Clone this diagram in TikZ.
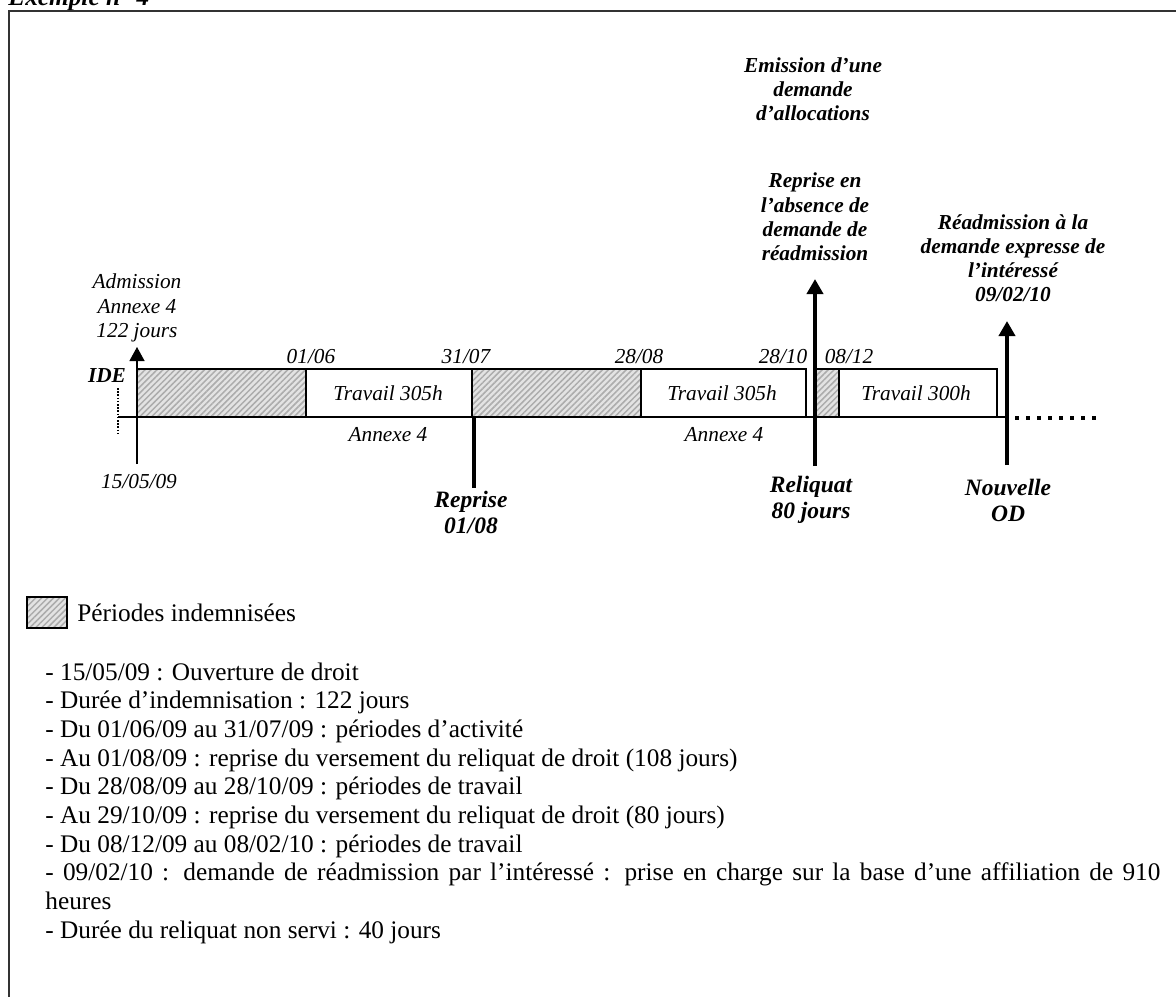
\documentclass[tikz,border=0pt]{standalone}
\usepackage{fontspec}
\setmainfont{Liberation Serif}
\usetikzlibrary{arrows.meta,patterns.meta}
\newcommand\labfont{\fontsize{10.65pt}{12.1pt}\selectfont\itshape}
\newcommand\blabfont{\fontsize{10.65pt}{12.1pt}\selectfont\bfseries\itshape}
\newcommand\biglabfont{\fontsize{11.75pt}{13pt}\selectfont\bfseries\itshape}
\newcommand\listfont{\fontsize{12.65pt}{14.35pt}\selectfont}
\tikzset{
  lab/.style={font=\labfont, inner sep=0pt, align=center},
  blab/.style={font=\blabfont, inner sep=0pt, align=center},
  biglab/.style={font=\biglabfont, inner sep=0pt, align=center},
  listline/.style={font=\listfont, inner sep=0pt, anchor=base west},
  boxline/.style={draw=black, line width=1pt},
  hatch/.style={preaction={fill=gray!22}, preaction={pattern={Lines[angle=45,distance=2.1pt,line width=0.75pt]}, pattern color=gray!65}},
  thinarrow/.style={line width=0.65pt, -{Triangle[width=7.5pt,length=7pt]}},
  thickarrow/.style={line width=2pt, -{Triangle[width=8pt,length=7.5pt]}},
  thickline/.style={line width=2pt}
}
\begin{document}
\begin{tikzpicture}[x=0.5pt,y=-0.5pt]
\useasboundingbox (0,0) rectangle (1176,996);
\fill[white] (0,0) rectangle (1176,996);
% title (cut off at top, as in the reference)
\node[font=\listfont\bfseries\itshape, inner sep=0pt, anchor=base west] (title) at (8,5) {Exemple n° 4};
% frame
\draw[line width=1pt, black!80] (8.5,10.5) rectangle (1200,1030);

% dotted vertical at start
\draw[line width=0.6pt, dash pattern=on 0.8pt off 0.8pt] (118,388) -- (118,433);

% boxes
\draw[boxline, hatch] (137,369) rectangle (306,417);
\draw[boxline] (306,369) rectangle (472,417);
\draw[boxline, hatch] (472,369) rectangle (641,417);
\draw[boxline] (641,369) rectangle (806,417);
\draw[boxline, hatch] (816,369) rectangle (839,417);
\draw[boxline] (839,369) rectangle (997,417);
% baseline
\coordinate (b0) at (118,417);
\coordinate (b1) at (1007,417);
\draw[line width=1pt] (b0) -- (b1);
% dots
\coordinate (d0) at (1015,418);
\coordinate (d1) at (1098,418);
\draw[line width=2pt, dash pattern=on 2pt off 3.5pt] (d0) -- (d1);

% arrows
\coordinate (adm0) at (137,464);
\coordinate (adm1) at (137,347);
\draw[thinarrow] (adm0) -- (adm1);
\coordinate (rep0) at (474,417);
\coordinate (rep1) at (474,488);
\draw[thickline] (rep0) -- (rep1);
\coordinate (rel0) at (815,466);
\coordinate (rel1) at (815,279);
\draw[thickarrow] (rel0) -- (rel1);
\coordinate (nod0) at (1007,465);
\coordinate (nod1) at (1007,321);
\draw[thickarrow] (nod0) -- (nod1);

% labels on timeline
\node[lab] (adm) at (137,308) {Admission\\Annexe 4\\122 jours};
\node[blab] (ide) at (107,376) {IDE};
\node[lab] (d0106) at (311,357) {01/06};
\node[lab] (d3107) at (466,357) {31/07};
\node[lab] (d2808) at (639,357) {28/08};
\node[lab] (d2810) at (783,357) {28/10};
\node[lab] (d0812) at (849,357) {08/12};
\node[lab] (t1) at (388,393) {Travail 305h};
\node[lab] (t2) at (722,393) {Travail 305h};
\node[lab] (t3) at (916,393) {Travail 300h};
\node[lab] (a1) at (388,435) {Annexe 4};
\node[lab] (a2) at (724,435) {Annexe 4};
\node[lab] (d150509) at (139,482) {15/05/09};

\node[biglab] (reprise) at (471,512) {Reprise\\01/08};
\node[biglab] (reliquat) at (811,500) {Reliquat\\80 jours};
\node[biglab] (nouvelle) at (1008,500) {Nouvelle\\OD};

\node[blab] (emission) at (813,89) {Emission d’une\\demande\\d’allocations};
\node[blab] (repabs) at (815,217) {Reprise en\\l’absence de\\demande de\\réadmission};
\node[blab] (readm) at (1013,258) {Réadmission à la\\demande expresse de\\l’intéressé\\09/02/10};

% legend
\draw[line width=0.8pt, draw=black, hatch] (27,597) rectangle (67,628);
\node[listline] (leg) at (77,621) {Périodes indemnisées};

% list
\node[listline] (l1) at (45,680) {- 15/05/09 : Ouverture de droit};
\node[listline] (l2) at (45,708.7) {- Durée d’indemnisation : 122 jours};
\node[listline] (l3) at (45,737.4) {- Du 01/06/09 au 31/07/09 : périodes d’activité};
\node[listline] (l4) at (45,766.1) {- Au 01/08/09 : reprise du versement du reliquat de droit (108 jours)};
\node[listline] (l5) at (45,794.8) {- Du 28/08/09 au 28/10/09 : périodes de travail};
\node[listline] (l6) at (45,823.5) {- Au 29/10/09 : reprise du versement du reliquat de droit (80 jours)};
\node[listline] (l7) at (45,852.2) {- Du 08/12/09 au 08/02/10 : périodes de travail};
\node[listline] (l8) at (45,880.9) {\makebox[557.5pt][s]{- 09/02/10 : demande de réadmission par l’intéressé : prise en charge sur la base d’une affiliation de 910}};
\node[listline] (l9) at (45,909.6) {heures};
\node[listline] (l10) at (45,938.3) {- Durée du reliquat non servi : 40 jours};
\end{tikzpicture}
\end{document}
